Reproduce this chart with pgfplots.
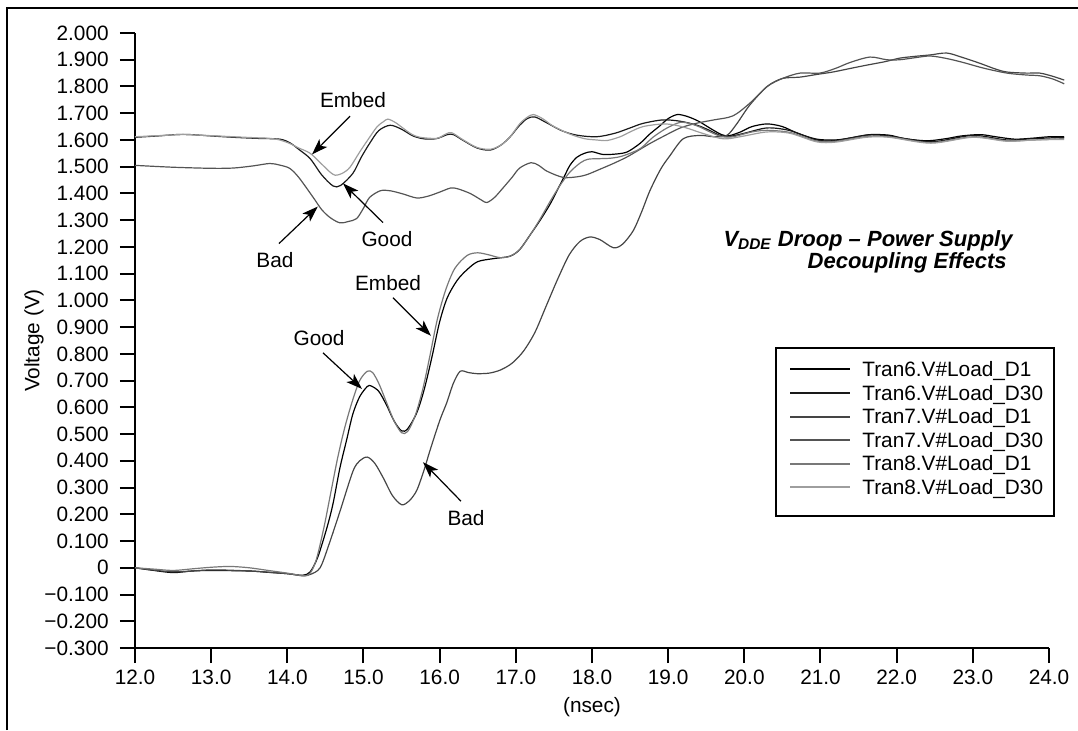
\documentclass[border=0pt]{standalone}
\usepackage{fontspec}
\setmainfont{Liberation Sans}
\usepackage{pgfplots}
\pgfplotsset{compat=1.18}
\usetikzlibrary{arrows.meta}

\definecolor{tsixa}{gray}{0.0}
\definecolor{tsixb}{gray}{0.10}
\definecolor{tsevena}{gray}{0.27}
\definecolor{tsevenb}{gray}{0.33}
\definecolor{teighta}{gray}{0.47}
\definecolor{teightb}{gray}{0.62}

\begin{document}
\fontsize{10.4}{12.5}\selectfont
\begin{tikzpicture}
\useasboundingbox (-67.5pt,-41pt) rectangle (471.5pt,324pt);
\draw[line width=1.2pt] (-64pt,-41pt) -- (-64pt,320pt) -- (471.5pt,320pt);
\begin{axis}[
  width=457pt, height=307.5pt, scale only axis,
  xmin=12, xmax=24, ymin=-0.3, ymax=2.0,
  axis x line*=bottom, axis y line*=left,
  axis line style={line width=1pt, -},
  tick align=outside, major tick length=7.5pt,
  major tick style={line width=1pt, black},
  xtick={12,13,14,15,16,17,18,19,20,21,22,23,24},
  xticklabels={12.0,13.0,14.0,15.0,16.0,17.0,18.0,19.0,20.0,21.0,22.0,23.0,24.0},
  ytick={-0.3,-0.2,-0.1,0,0.1,0.2,0.3,0.4,0.5,0.6,0.7,0.8,0.9,1.0,1.1,1.2,1.3,1.4,1.5,1.6,1.7,1.8,1.9,2.0},
  yticklabels={−0.300,−0.200,−0.100,0,0.100,0.200,0.300,0.400,0.500,0.600,0.700,0.800,0.900,1.000,1.100,1.200,1.300,1.400,1.500,1.600,1.700,1.800,1.900,2.000},
  yticklabel style={xshift=-2pt},
  xlabel={(nsec)}, ylabel={Voltage (V)},
  every axis x label/.style={at={(axis description cs:0.5,0)}, yshift=-29.5pt, anchor=center},
  every axis y label/.style={at={(axis description cs:0,0.5)}, xshift=-50.5pt, rotate=90, anchor=center},
  clip=false,
  legend cell align=left,
  legend style={at={(0.7155,0.4729)}, anchor=north west, draw=none, fill=none,
    inner sep=0pt, row sep=0pt, column sep=5.5pt,
    nodes={inner xsep=0pt, inner ysep=0pt, text height=9.5pt, text depth=2.3pt}},
  legend image code/.code={\draw[#1, line width=1pt] (0pt,0pt) -- (30pt,0pt);},
]
% Tran6 D1 (lower, good)
\addplot[tsixa, line width=0.6pt, smooth] coordinates {
  (12.0,0.0)(12.25,-0.01)(12.5,-0.018)(12.75,-0.012)(13.0,-0.01)(13.5,-0.012)
  (13.75,-0.017)(14.0,-0.022)(14.2,-0.028)(14.3,-0.015)(14.4,0.04)(14.52,0.15)
  (14.6,0.24)(14.69,0.373)(14.78,0.48)(14.86,0.575)(14.95,0.64)(15.05,0.678)
  (15.1,0.68)(15.2,0.66)(15.3,0.61)(15.4,0.55)(15.5,0.512)(15.58,0.52)(15.7,0.58)
  (15.8,0.67)(15.9,0.79)(16.0,0.92)(16.1,1.01)(16.23,1.075)(16.36,1.115)(16.5,1.145)
  (16.7,1.156)(16.92,1.165)(17.05,1.19)(17.2,1.25)(17.32,1.30)(17.45,1.36)(17.54,1.41)
  (17.63,1.46)(17.71,1.505)(17.8,1.535)(17.9,1.55)(18.0,1.556)(18.14,1.546)(18.3,1.547)
  (18.46,1.555)(18.63,1.587)(18.75,1.62)(18.9,1.655)(19.0,1.68)(19.12,1.695)(19.25,1.688)
  (19.4,1.67)(19.55,1.644)(19.7,1.62)(19.8,1.616)(19.95,1.63)(20.1,1.65)(20.3,1.66)
  (20.5,1.65)(20.7,1.625)(20.95,1.603)(21.2,1.60)(21.45,1.61)(21.65,1.62)(21.9,1.618)
  (22.1,1.605)(22.4,1.597)(22.65,1.605)(22.85,1.615)(23.1,1.62)(23.3,1.612)(23.55,1.603)
  (23.8,1.607)(24.0,1.612)(24.2,1.612)
};
\addlegendentry{Tran6.V\#Load\_D1}
% Tran6 D30 (upper, good)
\addplot[tsixb, line width=0.6pt, smooth] coordinates {
  (12.0,1.61)(12.3,1.615)(12.63,1.621)(13.0,1.615)(13.29,1.61)(13.6,1.606)(13.9,1.603)
  (14.03,1.59)(14.15,1.565)(14.3,1.53)(14.45,1.47)(14.6,1.428)(14.7,1.43)(14.86,1.475)
  (14.97,1.535)(15.08,1.587)(15.2,1.635)(15.35,1.655)(15.5,1.64)(15.65,1.615)(15.8,1.604)
  (15.96,1.605)(16.1,1.62)(16.18,1.62)(16.31,1.598)(16.49,1.57)(16.66,1.562)(16.8,1.58)
  (16.92,1.61)(17.05,1.655)(17.15,1.68)(17.25,1.686)(17.4,1.665)(17.6,1.635)(17.8,1.618)
  (18.06,1.612)(18.3,1.625)(18.5,1.645)(18.67,1.662)(18.93,1.675)(19.16,1.67)(19.38,1.655)
  (19.55,1.635)(19.68,1.617)(19.8,1.613)(20.0,1.625)(20.3,1.645)(20.6,1.635)(20.95,1.6)
  (21.2,1.598)(21.6,1.618)(21.9,1.615)(22.45,1.593)(23.0,1.617)(23.45,1.6)(23.8,1.605)
  (24.2,1.61)
};
\addlegendentry{Tran6.V\#Load\_D30}
% Tran7 D1 (lower, bad)
\addplot[tsevena, line width=0.6pt, smooth] coordinates {
  (12.0,0.0)(12.5,-0.015)(13.0,-0.008)(13.5,-0.012)(14.0,-0.022)(14.2,-0.03)(14.3,-0.025)
  (14.43,0.0)(14.55,0.09)(14.69,0.21)(14.86,0.36)(14.95,0.40)(15.05,0.414)(15.15,0.39)
  (15.26,0.336)(15.38,0.27)(15.5,0.236)(15.6,0.25)(15.7,0.29)(15.8,0.37)(15.87,0.436)
  (16.0,0.55)(16.09,0.615)(16.18,0.69)(16.27,0.735)(16.38,0.73)(16.49,0.726)(16.65,0.728)
  (16.8,0.74)(16.95,0.765)(17.1,0.81)(17.25,0.88)(17.4,0.98)(17.55,1.08)(17.7,1.17)
  (17.84,1.22)(17.97,1.237)(18.1,1.228)(18.28,1.197)(18.4,1.21)(18.54,1.26)(18.65,1.33)
  (18.76,1.41)(18.9,1.49)(19.02,1.54)(19.2,1.605)(19.42,1.617)(19.6,1.612)(19.77,1.617)
  (19.9,1.66)(20.07,1.73)(20.3,1.80)(20.5,1.83)(20.73,1.835)(20.95,1.845)(21.16,1.854)
  (21.4,1.868)(21.61,1.88)(21.85,1.893)(22.04,1.906)(22.25,1.913)(22.44,1.918)(22.66,1.925)
  (22.87,1.908)(23.09,1.887)(23.3,1.865)(23.45,1.854)(23.7,1.85)(23.88,1.85)(24.05,1.838)
  (24.2,1.824)
};
\addlegendentry{Tran7.V\#Load\_D1}
% Tran7 D30 (upper, bad)
\addplot[tsevenb, line width=0.6pt, smooth] coordinates {
  (12.0,1.505)(12.5,1.498)(13.0,1.494)(13.29,1.495)(13.55,1.503)(13.77,1.512)(13.9,1.506)
  (14.03,1.494)(14.15,1.46)(14.34,1.385)(14.45,1.34)(14.56,1.31)(14.69,1.29)(14.8,1.295)
  (14.91,1.306)(15.0,1.345)(15.08,1.385)(15.22,1.41)(15.35,1.41)(15.52,1.398)(15.7,1.383)
  (15.85,1.39)(16.0,1.405)(16.14,1.42)(16.23,1.418)(16.4,1.40)(16.55,1.375)(16.62,1.366)
  (16.72,1.385)(16.83,1.42)(16.95,1.46)(17.05,1.495)(17.2,1.515)(17.3,1.505)(17.41,1.483)
  (17.62,1.46)(17.8,1.462)(17.93,1.47)(18.1,1.49)(18.28,1.512)(18.45,1.535)(18.59,1.558)
  (18.75,1.585)(18.9,1.608)(19.16,1.645)(19.38,1.663)(19.6,1.675)(19.85,1.69)(20.07,1.737)
  (20.3,1.80)(20.5,1.83)(20.73,1.85)(20.99,1.85)(21.2,1.868)(21.39,1.89)(21.65,1.91)
  (21.87,1.90)(22.04,1.90)(22.25,1.908)(22.44,1.914)(22.65,1.905)(22.87,1.89)(23.15,1.868)
  (23.45,1.85)(23.7,1.843)(23.88,1.84)(24.05,1.828)(24.2,1.81)
};
\addlegendentry{Tran7.V\#Load\_D30}
% Tran8 D1 (lower, embed)
\addplot[teighta, line width=0.6pt, smooth] coordinates {
  (12.0,0.0)(12.25,-0.005)(12.5,-0.01)(12.75,-0.004)(13.0,0.002)(13.25,0.005)(13.5,0.0)
  (13.75,-0.01)(14.0,-0.02)(14.22,-0.03)(14.3,-0.02)(14.38,0.03)(14.48,0.15)(14.57,0.28)
  (14.66,0.41)(14.75,0.52)(14.85,0.62)(14.95,0.70)(15.05,0.735)(15.12,0.73)(15.2,0.69)
  (15.3,0.62)(15.4,0.55)(15.5,0.505)(15.58,0.51)(15.68,0.57)(15.78,0.67)(15.87,0.79)
  (15.97,0.93)(16.08,1.04)(16.2,1.12)(16.36,1.168)(16.5,1.178)(16.65,1.17)(16.79,1.16)
  (16.92,1.165)(17.05,1.19)(17.2,1.25)(17.32,1.305)(17.45,1.37)(17.58,1.43)(17.71,1.48)
  (17.85,1.515)(17.95,1.528)(18.1,1.53)(18.25,1.532)(18.4,1.54)(18.63,1.567)(18.8,1.61)
  (18.98,1.644)(19.16,1.666)(19.3,1.66)(19.42,1.648)(19.55,1.63)(19.7,1.613)(19.85,1.612)
  (20.1,1.63)(20.3,1.636)(20.6,1.628)(20.95,1.596)(21.2,1.595)(21.6,1.613)(21.9,1.612)
  (22.45,1.59)(23.0,1.612)(23.45,1.597)(23.8,1.6)(24.2,1.605)
};
\addlegendentry{Tran8.V\#Load\_D1}
% Tran8 D30 (upper, embed)
\addplot[teightb, line width=0.6pt, smooth] coordinates {
  (12.0,1.612)(12.3,1.616)(12.63,1.62)(13.0,1.616)(13.29,1.612)(13.6,1.608)(13.77,1.606)
  (13.9,1.6)(14.03,1.587)(14.15,1.57)(14.3,1.55)(14.45,1.51)(14.56,1.48)(14.63,1.468)
  (14.72,1.475)(14.82,1.497)(14.95,1.555)(15.08,1.61)(15.18,1.65)(15.26,1.668)(15.32,1.678)
  (15.42,1.665)(15.52,1.644)(15.63,1.622)(15.74,1.61)(15.96,1.606)(16.08,1.622)(16.16,1.627)
  (16.31,1.6)(16.49,1.572)(16.66,1.565)(16.8,1.58)(16.92,1.61)(17.05,1.66)(17.15,1.685)
  (17.23,1.695)(17.35,1.68)(17.49,1.652)(17.71,1.622)(17.9,1.605)(18.06,1.6)(18.2,1.598)
  (18.37,1.612)(18.5,1.63)(18.67,1.65)(18.93,1.66)(19.1,1.655)(19.25,1.644)(19.45,1.625)
  (19.68,1.606)(19.8,1.605)(20.0,1.615)(20.3,1.63)(20.6,1.625)(20.95,1.593)(21.2,1.592)
  (21.6,1.61)(21.9,1.61)(22.45,1.588)(23.0,1.61)(23.45,1.595)(23.8,1.6)(24.2,1.602)
};
\addlegendentry{Tran8.V\#Load\_D30}

% legend frame
\draw[line width=1pt] (rel axis cs:0.7013,0.4878) rectangle (rel axis cs:1.0055,0.2146);

% annotations
\tikzset{ann/.style={-{Stealth[length=8pt,width=5.5pt,inset=2pt]}, line width=0.6pt, black}}
\node at (axis cs:14.862,1.749) {Embed};
\draw[ann] (axis cs:14.823,1.689) -- (axis cs:14.324,1.546);
\node at (axis cs:13.838,1.149) {Bad};
\draw[ann] (axis cs:13.89,1.2125) -- (axis cs:14.40,1.351);
\node at (axis cs:15.308,1.231) {Good};
\draw[ann] (axis cs:15.256,1.291) -- (axis cs:14.731,1.4375);
\node at (axis cs:15.322,1.066) {Embed};
\draw[ann] (axis cs:15.387,1.010) -- (axis cs:15.886,0.8675);
\node at (axis cs:14.416,0.86) {Good};
\draw[ann] (axis cs:14.468,0.804) -- (axis cs:14.98,0.669);
\node at (axis cs:16.346,0.185) {Bad};
\draw[ann] (axis cs:16.28,0.249) -- (axis cs:15.781,0.395);

% title
\node[anchor=east, inner sep=0pt, font=\fontsize{11}{13}\selectfont\bfseries\itshape]
  at (axis cs:23.527,1.224) {V\textsubscript{DDE} Droop – Power Supply};
\node[anchor=east, inner sep=0pt, font=\fontsize{11}{13}\selectfont\bfseries\itshape]
  at (axis cs:23.448,1.141) {Decoupling Effects};
\end{axis}
\end{tikzpicture}
\end{document}
